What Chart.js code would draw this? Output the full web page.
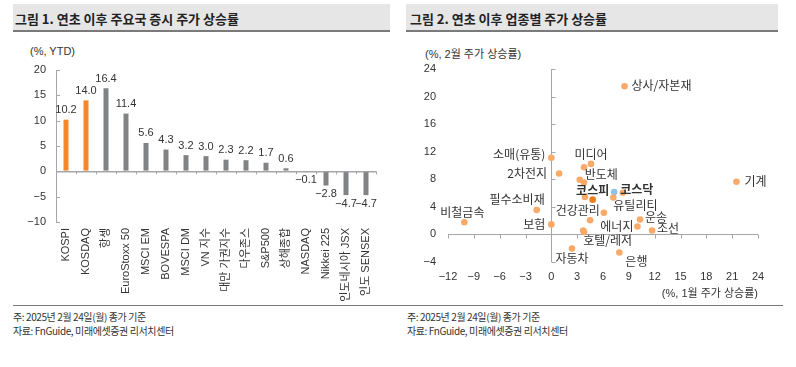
<!DOCTYPE html>
<html>
<head>
<meta charset="utf-8">
<script src="https://cdn.jsdelivr.net/npm/chart.js@4"></script>
<style>
  body { margin: 0; width: 796px; height: 367px; background: #fff; position: relative; overflow: hidden;
         font-family: "Noto Sans CJK KR", sans-serif; color: #222; }
  .title { position: absolute; top: 4px; height: 28px; box-sizing: border-box; background: #e6e6e6;
           border-bottom: 2px solid #7a7a7a; font-weight: bold; font-size: 13px; line-height: 20px; padding-top: 5px; }
  .unit { position: absolute; font-size: 11px; color: #333; font-family: "Liberation Sans", "Noto Sans CJK KR", sans-serif; }
  .foot { position: absolute; font-size: 10px; color: #333; letter-spacing: -0.4px; line-height: 14px; }
  .rule { position: absolute; left: 13px; top: 305px; width: 770px; height: 1px; background: #777; }
  canvas { position: absolute; top: 35px; }
</style>
</head>
<body>
<div class="title" style="left:13px;width:377px;padding-left:2px;">그림 1. 연초 이후 주요국 증시 주가 상승률</div>
<div class="title" style="left:406px;width:372px;padding-left:4px;">그림 2. 연초 이후 업종별 주가 상승률</div>
<div class="unit" style="left:30px;top:45px;">(%, YTD)</div>
<div class="unit" style="left:425px;top:45px;">(%, 2월 주가 상승률)</div>
<canvas id="barChart" width="395" height="270" style="left:0px;"></canvas>
<canvas id="scatterChart" width="396" height="270" style="left:400px;"></canvas>
<div class="rule"></div>
<div class="foot" style="left:13px;top:310px;">주: 2025년 2월 24일(월) 종가 기준<br>자료: FnGuide, 미래에셋증권 리서치센터</div>
<div class="foot" style="left:407px;top:310px;">주: 2025년 2월 24일(월) 종가 기준<br>자료: FnGuide, 미래에셋증권 리서치센터</div>

<script>
// ---- 그림 1 data ----
const indexNames = ["KOSPI", "KOSDAQ", "항셍", "EuroStoxx 50", "MSCI EM", "BOVESPA", "MSCI DM", "VN 지수",
    "대만 가권지수", "다우존스", "S&P500", "상해종합", "NASDAQ", "Nikkei 225", "인도네시아 JSX", "인도 SENSEX"];
const indexReturns = [10.2, 14.0, 16.4, 11.4, 5.6, 4.3, 3.2, 3.0, 2.3, 2.2, 1.7, 0.6, -0.1, -2.8, -4.7, -4.7];
const koreaIndices = ["KOSPI", "KOSDAQ"];

// ---- 그림 2 data ----
const sectorNames = ["상사/자본재", "소매(유통)", "미디어", "", "2차전지", "반도체", "", "기계", "코스닥", "",
    "", "코스피", "유틸리티", "필수소비재", "건강관리", "", "비철금속", "운송", "보험", "에너지", "조선",
    "호텔/레저", "", "자동차", "은행"];
const janReturns = [8.5, 0.0, 4.6, 3.8, 0.9, 3.3, 3.8, 21.5, 7.3, 8.3, 3.9, 4.8, 7.2, -1.7, 6.1, 4.5, -10.1,
    10.3, 0.0, 10.0, 11.7, 3.7, 3.8, 2.4, 7.9];
const febReturns = [21.5, 11.1, 10.2, 9.7, 8.8, 7.9, 7.5, 7.6, 6.1, 6.0, 5.4, 5.0, 5.3, 3.5, 3.1, 2.0, 1.7,
    2.1, 1.4, 1.1, 0.5, 0.5, 0.3, -2.1, -2.7];

const fmt = v => (v < 0 ? "\u2212" + Math.abs(v) : String(v));
const fmt1 = v => (v < 0 ? "\u2212" + Math.abs(v).toFixed(1) : v.toFixed(1));

Chart.defaults.font.family = "'Liberation Sans', 'Noto Sans CJK KR', sans-serif";
Chart.defaults.font.size = 11;
Chart.defaults.color = "#333";

// value labels, zero-line ticks, inward y ticks
const barDecor = {
    id: "barDecor",
    afterDatasetsDraw(chart) {
        const ctx = chart.ctx;
        const area = chart.chartArea;
        const y = chart.scales.y;
        const meta = chart.getDatasetMeta(0);
        ctx.save();
        ctx.strokeStyle = "#a6a6a6";
        ctx.lineWidth = 1;
        const y0 = y.getPixelForValue(0);
        const step = (area.right - area.left) / indexNames.length;
        for (let i = 1; i <= indexNames.length; i++) {
            const x = Math.round(area.left + i * step) + 0.5;
            ctx.beginPath(); ctx.moveTo(x, y0); ctx.lineTo(x, y0 + 3); ctx.stroke();
        }
        y.ticks.forEach(t => {
            const py = Math.round(y.getPixelForValue(t.value)) + 0.5;
            ctx.beginPath(); ctx.moveTo(area.left, py); ctx.lineTo(area.left + 4, py); ctx.stroke();
        });
        ctx.fillStyle = "#333";
        ctx.font = "11px 'Liberation Sans', sans-serif";
        ctx.textAlign = "center";
        meta.data.forEach((bar, i) => {
            const v = indexReturns[i];
            if (v >= 0) { ctx.textBaseline = "bottom"; ctx.fillText(fmt1(v), bar.x, bar.y - 4); }
            else { ctx.textBaseline = "top"; ctx.fillText(fmt1(v), bar.x, bar.y + 3); }
        });
        ctx.restore();
    }
};

new Chart(document.getElementById("barChart"), {
    type: "bar",
    data: {
        labels: indexNames,
        datasets: [{
            data: indexReturns,
            backgroundColor: indexNames.map(n => koreaIndices.includes(n) ? "#f5862a" : "#808285"),
            barPercentage: 0.25,
            categoryPercentage: 1
        }]
    },
    options: {
        responsive: false,
        animation: false,
        layout: { padding: { top: 35, right: 19, left: 0, bottom: 0 } },
        plugins: { legend: { display: false }, tooltip: { enabled: false } },
        scales: {
            x: {
                grid: { display: false, drawTicks: false },
                border: { display: false },
                ticks: { autoSkip: false, maxRotation: 90, minRotation: 90, padding: 6, color: "#333" },
                afterFit(scale) { scale.height = 83; }
            },
            y: {
                min: -10, max: 20,
                ticks: { stepSize: 5, padding: 10, callback: fmt, color: "#333" },
                grid: {
                    drawTicks: false,
                    color: c => (c.tick && c.tick.value === 0 ? "#a6a6a6" : "rgba(0,0,0,0)"),
                    lineWidth: c => (c.tick && c.tick.value === 0 ? 1.5 : 0)
                },
                border: { color: "#a6a6a6" },
                afterFit(scale) { scale.width = 56; }
            }
        }
    },
    plugins: [barDecor]
});

// ---- scatter ----
const labelStyle = {
    "상사/자본재": [7, -1, "left"], "소매(유통)": [-6, -3, "right"], "미디어": [0, -9, "center"],
    "2차전지": [-12, 0, "right"], "반도체": [5, -5, "left"], "기계": [8, 0, "left"],
    "코스닥": [6, -3, "left"], "코스피": [0, -9, "center"], "유틸리티": [0, 8, "left"],
    "필수소비재": [8, -11, "right"], "건강관리": [-4, -2, "right"], "비철금속": [-2, -10, "center"],
    "운송": [5, -2, "left"], "보험": [-6, 0, "right"], "에너지": [-4, 0, "right"], "조선": [5, -2, "left"],
    "호텔/레저": [0, 10, "left"], "자동차": [0, 10, "center"], "은행": [6, 9, "left"]
};

const scatterDecor = {
    id: "scatterDecor",
    afterDatasetsDraw(chart) {
        const ctx = chart.ctx;
        const xs = chart.scales.x, ys = chart.scales.y;
        const x0 = Math.round(xs.getPixelForValue(0)) + 0.5;
        const y0 = Math.round(ys.getPixelForValue(0)) + 0.5;
        ctx.save();
        ctx.strokeStyle = "#a6a6a6";
        ctx.lineWidth = 1;
        xs.ticks.forEach(t => {
            const px = Math.round(xs.getPixelForValue(t.value)) + 0.5;
            ctx.beginPath(); ctx.moveTo(px, y0); ctx.lineTo(px, y0 + 4); ctx.stroke();
        });
        ys.ticks.forEach(t => {
            const py = Math.round(ys.getPixelForValue(t.value)) + 0.5;
            ctx.beginPath(); ctx.moveTo(x0, py); ctx.lineTo(x0 + 4, py); ctx.stroke();
        });
        ctx.textBaseline = "middle";
        ctx.fillStyle = "#333";
        chart.getDatasetMeta(0).data.forEach((pt, i) => {
            const name = sectorNames[i];
            if (!name) return;
            const s = labelStyle[name] || [6, 0, "left"];
            const bold = name === "코스피" || name === "코스닥";
            ctx.font = (bold ? "bold " : "") + "12px 'Noto Sans CJK KR', sans-serif";
            ctx.textAlign = s[2];
            ctx.fillText(name, pt.x + s[0], pt.y + s[1]);
        });
        ctx.restore();
    }
};

const axisLine = c => (c.tick && c.tick.value === 0 ? "#a6a6a6" : "rgba(0,0,0,0)");

new Chart(document.getElementById("scatterChart"), {
    type: "scatter",
    data: {
        datasets: [{
            data: janReturns.map((x, i) => ({ x: x, y: febReturns[i] })),
            pointRadius: 3.3,
            pointBorderWidth: 0,
            pointBackgroundColor: sectorNames.map(n => n === "코스피" ? "#ef7d1a" : n === "코스닥" ? "#8dc3e8" : "#f9a968")
        }]
    },
    options: {
        responsive: false,
        animation: false,
        layout: { padding: { top: 34, right: 38, left: 0, bottom: 0 } },
        plugins: { legend: { display: false }, tooltip: { enabled: false } },
        scales: {
            x: {
                type: "linear", min: -12, max: 24,
                ticks: { stepSize: 3, padding: 9, callback: fmt, color: "#333" },
                grid: { drawTicks: false, color: axisLine },
                border: { display: false },
                title: { display: true, text: "(%, 1월 주가 상승률)", align: "end", color: "#333",
                         font: { size: 11 }, padding: { top: 3 } },
                afterFit(scale) { scale.height = 43.5; }
            },
            y: {
                min: -4, max: 24,
                ticks: { stepSize: 4, padding: 12, callback: fmt, color: "#333" },
                grid: { drawTicks: false, color: axisLine },
                border: { display: false },
                afterFit(scale) { scale.width = 48; }
            }
        }
    },
    plugins: [scatterDecor]
});
</script>
</body>
</html>
